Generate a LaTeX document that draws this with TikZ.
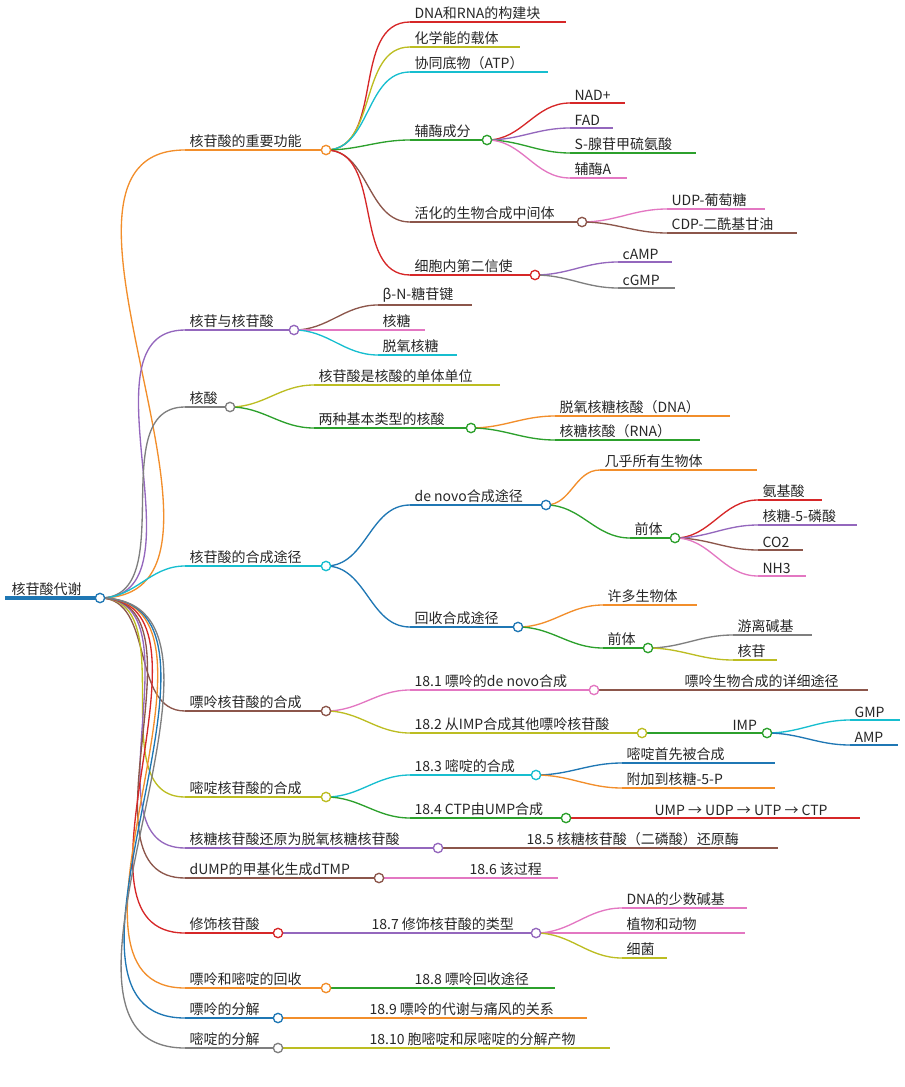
\documentclass[tikz,border=0pt]{standalone}
\usepackage{fontspec}
\setmainfont{Noto Sans CJK SC}
\usepackage{tikz}
\usetikzlibrary{positioning}
\definecolor{morange}{HTML}{F28E2B}
\definecolor{mred}{HTML}{D62728}
\definecolor{molive}{HTML}{BCBD22}
\definecolor{mcyan}{HTML}{17BECF}
\definecolor{mgreen}{HTML}{2CA02C}
\definecolor{mpurple}{HTML}{9467BD}
\definecolor{mbrown}{HTML}{8C564B}
\definecolor{mpink}{HTML}{E377C2}
\definecolor{mgray}{HTML}{7F7F7F}
\definecolor{mblue}{HTML}{1F77B4}
\tikzset{
  txt/.style={inner sep=1pt, font=\fontsize{10.5}{12}\selectfont, text=black!85},
  knob/.style={circle, draw, fill=white, line width=1pt, minimum size=7pt, inner sep=0pt},
  edge/.style={line width=1pt, out=0, in=180}
}
% name, x start, x end, y, colour, text
\newcommand\topic[6]{%
  \coordinate (#1-s) at (#2,#4);
  \coordinate (#1-e) at (#3,#4);
  \draw[#5, line width=1pt] (#1-s) -- (#1-e);
  \node[txt, anchor=south west] (#1) at (#2+3,#4-1) {#6};}
\newcommand\knot[2]{\node[knob, draw=#2] (#1-c) at (#1-e) {};}
\newcommand\link[3]{\draw[edge, #3] (#1-e) to (#2-s);}
\begin{document}
\begin{tikzpicture}[x=0.75pt, y=-0.75pt]
\useasboundingbox (0,0) rectangle (905,1087);
% root
\coordinate (root-s) at (5,598);
\coordinate (root-e) at (100,598);
\draw[mblue, line width=2.5pt] (root-s) -- (root-e);
\node[txt, anchor=south west] (root) at (10,597) {核苷酸代谢};

% level 1
\topic{f1}{185}{326}{150}{morange}{核苷酸的重要功能}
\topic{f2}{185}{294}{330}{mpurple}{核苷与核苷酸}
\topic{f3}{185}{230}{407}{mgray}{核酸}
\topic{f4}{185}{326}{566}{mcyan}{核苷酸的合成途径}
\topic{f5}{185}{326}{711}{mbrown}{嘌呤核苷酸的合成}
\topic{f6}{185}{326}{797}{molive}{嘧啶核苷酸的合成}
\topic{f7}{185}{438}{848}{mpurple}{核糖核苷酸还原为脱氧核糖核苷酸}
\topic{f8}{185}{379}{878}{mbrown}{dUMP的甲基化生成dTMP}
\topic{f9}{185}{278}{933}{mred}{修饰核苷酸}
\topic{f10}{185}{326}{988}{morange}{嘌呤和嘧啶的回收}
\topic{f11}{185}{278}{1018}{mblue}{嘌呤的分解}
\topic{f12}{185}{278}{1048}{mgray}{嘧啶的分解}

% functions
\topic{a1}{410}{566}{22}{mred}{DNA和RNA的构建块}
\topic{a2}{410}{520}{47}{molive}{化学能的载体}
\topic{a3}{410}{548}{72}{mcyan}{协同底物（ATP）}
\topic{a4}{410}{487}{140}{mgreen}{辅酶成分}
\topic{a5}{410}{582}{222}{mbrown}{活化的生物合成中间体}
\topic{a6}{410}{535}{275}{mred}{细胞内第二信使}
\topic{b1}{570}{625}{103}{mred}{NAD+}
\topic{b2}{570}{613}{128}{mpurple}{FAD}
\topic{b3}{570}{696}{153}{mgreen}{S-腺苷甲硫氨酸}
\topic{b4}{570}{627}{178}{mpink}{辅酶A}
\topic{c1}{667}{765}{209}{mpink}{UDP-葡萄糖}
\topic{c2}{667}{797}{233}{mbrown}{CDP-二酰基甘油}
\topic{d1}{618}{672}{262}{mpurple}{cAMP}
\topic{d2}{618}{675}{288}{mgray}{cGMP}

% nucleosides
\topic{e1}{378}{472}{305}{mbrown}{β-N-糖苷键}
\topic{e2}{378}{425}{330}{mpink}{核糖}
\topic{e3}{378}{457}{355}{mcyan}{脱氧核糖}

% nucleic acids
\topic{g1}{314}{500}{385}{molive}{核苷酸是核酸的单体单位}
\topic{g2}{314}{471}{428}{mgreen}{两种基本类型的核酸}
\topic{g3}{555}{730}{416}{morange}{脱氧核糖核酸（DNA）}
\topic{g4}{555}{700}{440}{mgreen}{核糖核酸（RNA）}

% synthesis routes
\topic{h1}{410}{546}{505}{mblue}{de novo合成途径}
\topic{h2}{410}{518}{627}{mblue}{回收合成途径}
\topic{h3}{600}{757}{470}{morange}{几乎所有生物体}
\topic{h4}{630}{675}{538}{mgreen}{前体}
\topic{h5}{758}{822}{500}{mred}{氨基酸}
\topic{h6}{758}{857}{525}{mpurple}{核糖-5-磷酸}
\topic{h7}{758}{803}{550}{mbrown}{CO2}
\topic{h8}{758}{806}{576}{mpink}{NH3}
\topic{h9}{603}{697}{605}{morange}{许多生物体}
\topic{h10}{603}{648}{648}{mgreen}{前体}
\topic{h11}{733}{812}{635}{mgray}{游离碱基}
\topic{h12}{733}{777}{660}{molive}{核苷}

% purine synthesis
\topic{i1}{410}{594}{690}{mpink}{18.1 嘌呤的de novo合成}
\topic{i2}{680}{868}{690}{mbrown}{嘌呤生物合成的详细途径}
\topic{i3}{410}{642}{733}{molive}{18.2 从IMP合成其他嘌呤核苷酸}
\topic{i4}{728}{767}{733}{mgreen}{IMP}
\topic{i5}{850}{900}{720}{mcyan}{GMP}
\topic{i6}{850}{898}{745}{mblue}{AMP}

% pyrimidine synthesis
\topic{j1}{410}{536}{775}{mcyan}{18.3 嘧啶的合成}
\topic{j2}{622}{775}{763}{mblue}{嘧啶首先被合成}
\topic{j3}{622}{775}{788}{morange}{附加到核糖-5-P}
\topic{j4}{410}{566}{818}{mgreen}{18.4 CTP由UMP合成}
\topic{j5}{650}{860}{818}{mred}{UMP → UDP → UTP → CTP}

% remaining
\topic{k1}{522}{778}{848}{mbrown}{18.5 核糖核苷酸（二磷酸）还原酶}
\topic{k2}{465}{558}{878}{mpink}{18.6 该过程}
\topic{k3}{367}{536}{933}{mpurple}{18.7 修饰核苷酸的类型}
\topic{k4}{622}{747}{908}{mpink}{DNA的少数碱基}
\topic{k5}{622}{745}{933}{mpink}{植物和动物}
\topic{k6}{622}{667}{958}{molive}{细菌}
\topic{k7}{410}{555}{988}{mgreen}{18.8 嘌呤回收途径}
\topic{k8}{365}{587}{1018}{morange}{18.9 嘌呤的代谢与痛风的关系}
\topic{k9}{365}{610}{1048}{molive}{18.10 胞嘧啶和尿嘧啶的分解产物}

% connectors
\link{root}{f1}{morange} \link{root}{f2}{mpurple} \link{root}{f3}{mgray}
\link{root}{f4}{mcyan} \link{root}{f5}{mbrown} \link{root}{f6}{molive}
\link{root}{f7}{mpurple} \link{root}{f8}{mbrown} \link{root}{f9}{mred}
\link{root}{f10}{morange} \link{root}{f11}{mblue} \link{root}{f12}{mgray}
\link{f1}{a1}{mred} \link{f1}{a2}{molive} \link{f1}{a3}{mcyan}
\link{f1}{a4}{mgreen} \link{f1}{a5}{mbrown} \link{f1}{a6}{mred}
\link{a4}{b1}{mred} \link{a4}{b2}{mpurple} \link{a4}{b3}{mgreen} \link{a4}{b4}{mpink}
\link{a5}{c1}{mpink} \link{a5}{c2}{mbrown}
\link{a6}{d1}{mpurple} \link{a6}{d2}{mgray}
\link{f2}{e1}{mbrown} \link{f2}{e2}{mpink} \link{f2}{e3}{mcyan}
\link{f3}{g1}{molive} \link{f3}{g2}{mgreen}
\link{g2}{g3}{morange} \link{g2}{g4}{mgreen}
\link{f4}{h1}{mblue} \link{f4}{h2}{mblue}
\link{h1}{h3}{morange} \link{h1}{h4}{mgreen}
\link{h4}{h5}{mred} \link{h4}{h6}{mpurple} \link{h4}{h7}{mbrown} \link{h4}{h8}{mpink}
\link{h2}{h9}{morange} \link{h2}{h10}{mgreen}
\link{h10}{h11}{mgray} \link{h10}{h12}{molive}
\link{f5}{i1}{mpink} \link{f5}{i3}{molive}
\link{i1}{i2}{mbrown} \link{i3}{i4}{mgreen}
\link{i4}{i5}{mcyan} \link{i4}{i6}{mblue}
\link{f6}{j1}{mcyan} \link{f6}{j4}{mgreen}
\link{j1}{j2}{mblue} \link{j1}{j3}{morange} \link{j4}{j5}{mred}
\link{f7}{k1}{mbrown} \link{f8}{k2}{mpink} \link{f9}{k3}{mpurple}
\link{k3}{k4}{mpink} \link{k3}{k5}{mpink} \link{k3}{k6}{molive}
\link{f10}{k7}{mgreen} \link{f11}{k8}{morange} \link{f12}{k9}{molive}

% knobs
\node[knob, draw=mblue] (root-c) at (root-e) {};
\knot{f1}{morange} \knot{f2}{mpurple} \knot{f3}{mgray} \knot{f4}{mcyan}
\knot{f5}{mbrown} \knot{f6}{molive} \knot{f7}{mpurple} \knot{f8}{mbrown}
\knot{f9}{mred} \knot{f10}{morange} \knot{f11}{mblue} \knot{f12}{mgray}
\knot{a4}{mgreen} \knot{a5}{mbrown} \knot{a6}{mred} \knot{g2}{mgreen}
\knot{h1}{mblue} \knot{h2}{mblue} \knot{h4}{mgreen} \knot{h10}{mgreen}
\knot{i1}{mpink} \knot{i3}{molive} \knot{i4}{mgreen}
\knot{j1}{mcyan} \knot{j4}{mgreen} \knot{k3}{mpurple}
\end{tikzpicture}
\end{document}
